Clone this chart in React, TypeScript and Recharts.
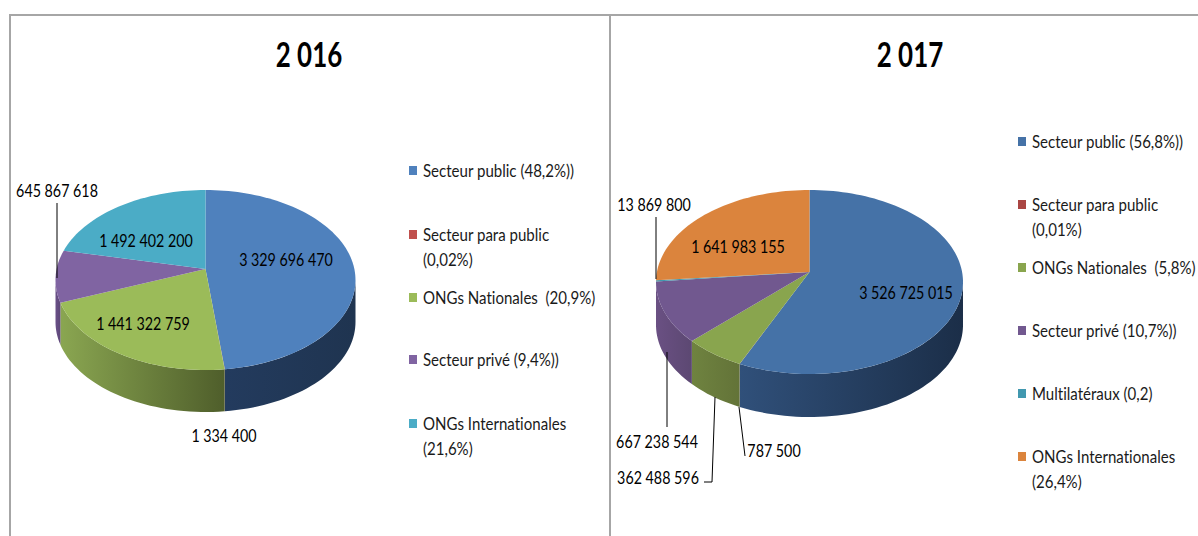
import React from 'react'
import { PieChart, Pie, Legend } from 'recharts'

const FONT = "Lato, 'Open Sans', sans-serif"
const LABEL_SQUEEZE = 0.84
const LEGEND_SQUEEZE = 0.885

const names2016 = ['Secteur public (48,2%))', 'Secteur para public\n(0,02%)', 'ONGs Nationales  (20,9%)', 'Secteur privé (9,4%))', 'ONGs Internationales\n(21,6%)']
const values2016 = [3329696470, 1334400, 1441322759, 645867618, 1492402200]
const colors2016 = ['#4f81bd', '#c0504d', '#9bbb59', '#8064a2', '#4bacc6']
const walls2016 = [['#233b5e', '#1f3450'], ['#6d2b2a', '#5c2423'], ['#8aa651', '#4f5e2b'], ['#6a5088', '#5d4778'], ['#2f7f95', '#2f7f95']]

const names2017 = ['Secteur public (56,8%))', 'Secteur para public\n(0,01%)', 'ONGs Nationales  (5,8%)', 'Secteur privé (10,7%))', 'Multilatéraux (0,2)', 'ONGs Internationales\n(26,4%)']
const values2017 = [3526725015, 787500, 362488596, 667238544, 13869800, 1641983155]
const colors2017 = ['#4572a7', '#aa4643', '#89a54e', '#71588f', '#4198af', '#db843d']
const walls2017 = [['#30507a', '#1b2e48'], ['#6d2b2a', '#5c2423'], ['#6f8340', '#637338'], ['#6a5083', '#5c4872'], ['#2f7f95', '#2f7f95'], ['#a86530', '#a86530']]

const toRows = (names: string[], values: number[], colors: string[]) =>
  names.map((name, i) => ({ name, value: values[i], fill: colors[i] }))

const fmt = (n: number) => String(n).replace(/\B(?=(\d{3})+(?!\d))/g, ' ')

// tilted disc: the pie centre sits above the middle of the ellipse
interface Disc { rx: number; ry: number; off: number; depth: number }

const rimPoint = (cx: number, cy: number, d: Disc, deg: number) => {
  const t = (deg * Math.PI) / 180
  const k = -d.off / d.ry
  const c = d.rx * Math.sqrt(1 - (d.off / d.ry) ** 2)
  const y = -Math.cos(t)
  const w = 1 + k * y
  return [cx + (c * Math.sin(t)) / w, cy + (d.ry * y - d.off) / w]
}

const arcPoints = (cx: number, cy: number, d: Disc, from: number, to: number) => {
  const n = Math.max(2, Math.ceil((to - from) / 2))
  return Array.from({ length: n + 1 }, (_, i) => rimPoint(cx, cy, d, from + ((to - from) * i) / n))
}

const toPath = (pts: number[][]) => pts.map((p, i) => `${i ? 'L' : 'M'}${p[0].toFixed(2)} ${p[1].toFixed(2)}`).join(' ') + ' Z'

const discShape = (d: Disc, prefix: string) => (props: any) => {
  const { cx, cy, startAngle, endAngle, fill, index } = props
  const from = 90 - startAngle
  const to = 90 - endAngle
  const top = arcPoints(cx, cy, d, from, to)
  const apex = [cx, cy - d.off]
  const wFrom = Math.max(from, 97)
  const wTo = Math.min(to, 263)
  let wall = null
  if (wTo > wFrom) {
    const rim = arcPoints(cx, cy, d, wFrom, wTo)
    const low = rim.map((p) => [p[0], p[1] + d.depth]).reverse()
    wall = <path d={toPath([...rim, ...low])} fill={`url(#${prefix}${index})`} />
  }
  return (
    <g>
      {wall}
      <path d={toPath([apex, ...top])} fill={fill} />
    </g>
  )
}

interface Spot { x: number; y: number; line?: number[][] }

const dataLabel = (spots: Spot[]) => (props: any) => {
  const spot = spots[props.index]
  return (
    <g>
      {spot.line && <polyline points={spot.line.map((p) => p.join(',')).join(' ')} fill="none" stroke="#000" strokeWidth={1} />}
      <text
        transform={`translate(${spot.x} ${spot.y}) scale(${LABEL_SQUEEZE} 1)`}
        textAnchor="middle"
        dominantBaseline="central"
        fontFamily={FONT}
        fontSize={17}
        fill="#000"
      >
        {fmt(props.value)}
      </text>
    </g>
  )
}

const legendContent = (tops: number[], left: number) => ({ payload }: any) => (
  <div style={{ position: 'relative', fontFamily: FONT, fontSize: 17, lineHeight: '25px', color: '#1a1a1a', fontVariantLigatures: 'none' }}>
    {(payload ?? []).map((item: any, i: number) => (
      <div key={i} style={{ position: 'absolute', top: tops[i], left, whiteSpace: 'pre' }}>
        <span style={{ position: 'absolute', left: 0, top: 8, width: 8, height: 9, background: item.color }} />
        <span style={{ display: 'block', marginLeft: 14, transform: `scaleX(${LEGEND_SQUEEZE})`, transformOrigin: 'left center' }}>{item.value}</span>
      </div>
    ))}
  </div>
)

const disc2016: Disc = { rx: 150, ry: 90, off: 11, depth: 42 }
const disc2017: Disc = { rx: 153.5, ry: 92, off: 10, depth: 43 }

const spots2016: Spot[] = [
  { x: 276, y: 260 },
  { x: 214, y: 436 },
  { x: 133, y: 324 },
  { x: 47, y: 191, line: [[47, 203], [47, 278]] },
  { x: 136, y: 241 },
]
const spots2017: Spot[] = [
  { x: 296, y: 293 },
  { x: 164, y: 451, line: [[129, 407], [135, 456]] },
  { x: 48, y: 478, line: [[105, 397], [102, 482], [94, 482]] },
  { x: 47, y: 442, line: [[57, 352], [57, 427]] },
  { x: 44, y: 205, line: [[46, 279], [46, 217]] },
  { x: 128, y: 247 },
]

const title: React.CSSProperties = {
  position: 'absolute', top: 30, width: 120, textAlign: 'center', fontFamily: FONT,
  fontWeight: 700, fontSize: 35, lineHeight: '46px', color: '#000', transform: 'scaleX(0.74)',
}

function Gradients({ prefix, walls }: { prefix: string; walls: string[][] }) {
  return (
    <defs>
      {walls.map((w, i) => (
        <linearGradient key={i} id={`${prefix}${i}`} x1="0" y1="0" x2="1" y2="0">
          <stop offset="0%" stopColor={w[0]} />
          <stop offset="100%" stopColor={w[1]} />
        </linearGradient>
      ))}
    </defs>
  )
}

export default function App() {
  return (
    <div style={{ position: 'absolute', left: 0, top: 0, width: 1198, height: 536, background: '#fff', overflow: 'hidden' }}>
      <div style={{ position: 'absolute', left: 9, top: 14, width: 1189, height: 2, background: '#a6a6a6' }} />
      <div style={{ position: 'absolute', left: 9, top: 14, width: 2, height: 522, background: '#a6a6a6' }} />
      <div style={{ position: 'absolute', left: 609, top: 14, width: 2, height: 522, background: '#a6a6a6' }} />
      <div style={{ ...title, left: 249 }}>2 016</div>
      <div style={{ ...title, left: 850 }}>2 017</div>

      <div style={{ position: 'absolute', left: 10, top: 0 }}>
        <PieChart width={599} height={536} margin={{ top: 0, right: 0, bottom: 0, left: 0 }}>
          <Gradients prefix="w16" walls={walls2016} />
          <Pie
            data={toRows(names2016, values2016, colors2016)}
            dataKey="value"
            nameKey="name"
            cx={195.5}
            cy={280}
            outerRadius={150}
            startAngle={90}
            endAngle={-270}
            stroke="none"
            legendType="square"
            isAnimationActive={false}
            shape={discShape(disc2016, 'w16')}
            label={dataLabel(spots2016)}
            labelLine={false}
          />
          <Legend itemSorter={null} content={legendContent([158, 222, 285, 347, 411], 399)} wrapperStyle={{ position: 'absolute', left: 0, top: 0, width: 599, height: 536 }} />
        </PieChart>
      </div>

      <div style={{ position: 'absolute', left: 610, top: 0 }}>
        <PieChart width={588} height={536} margin={{ top: 0, right: 0, bottom: 0, left: 0 }}>
          <Gradients prefix="w17" walls={walls2017} />
          <Pie
            data={toRows(names2017, values2017, colors2017)}
            dataKey="value"
            nameKey="name"
            cx={199.5}
            cy={282}
            outerRadius={153.5}
            startAngle={90}
            endAngle={-270}
            stroke="none"
            legendType="square"
            isAnimationActive={false}
            shape={discShape(disc2017, 'w17')}
            label={dataLabel(spots2017)}
            labelLine={false}
          />
          <Legend itemSorter={null} content={legendContent([129, 192, 255, 318, 381, 444], 408)} wrapperStyle={{ position: 'absolute', left: 0, top: 0, width: 588, height: 536 }} />
        </PieChart>
      </div>
    </div>
  )
}
